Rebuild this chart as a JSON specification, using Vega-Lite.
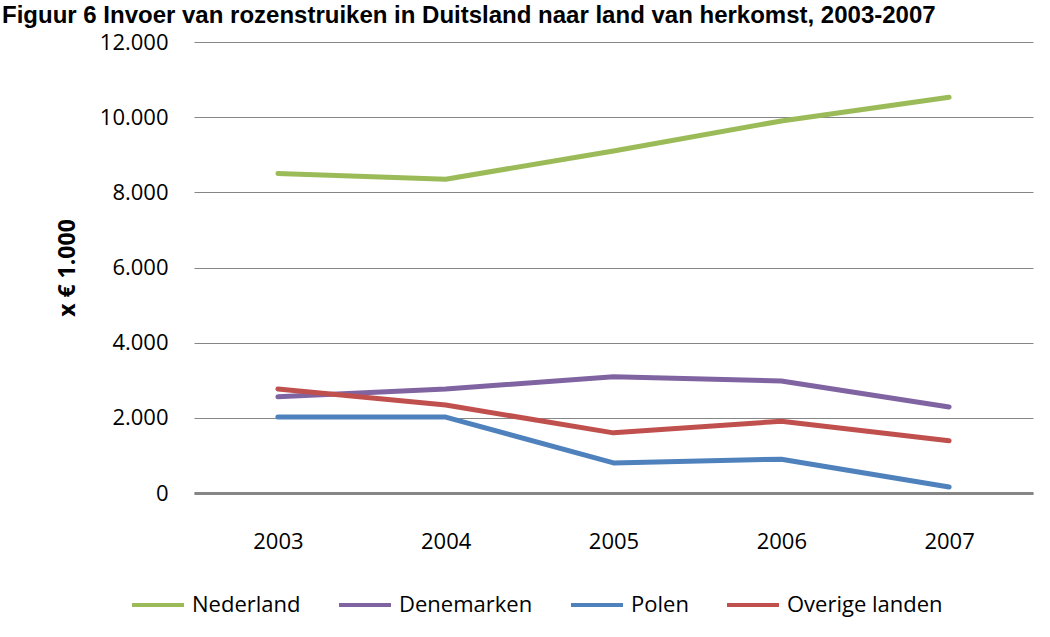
{
  "$schema": "https://vega.github.io/schema/vega-lite/v6.json",
  "width": 839,
  "height": 451,
  "autosize": "none",
  "padding": {"left": 194, "top": 42, "right": 17, "bottom": 144},
  "background": "white",
  "title": {
    "text": "Figuur 6 Invoer van rozenstruiken in Duitsland naar land van herkomst, 2003-2007",
    "anchor": "start",
    "frame": "group",
    "font": "Liberation Sans",
    "fontWeight": "bold",
    "fontSize": 24,
    "color": "black",
    "baseline": "alphabetic",
    "offset": 0,
    "dx": -192,
    "dy": 16
  },
  "config": {
    "view": {"stroke": null},
    "font": "Open Sans"
  },
  "data": {
    "values": [
      {"jaar": "2003", "land": "Nederland", "waarde": 8500},
      {"jaar": "2004", "land": "Nederland", "waarde": 8350},
      {"jaar": "2005", "land": "Nederland", "waarde": 9100},
      {"jaar": "2006", "land": "Nederland", "waarde": 9900},
      {"jaar": "2007", "land": "Nederland", "waarde": 10530},
      {"jaar": "2003", "land": "Denemarken", "waarde": 2560},
      {"jaar": "2004", "land": "Denemarken", "waarde": 2770},
      {"jaar": "2005", "land": "Denemarken", "waarde": 3090},
      {"jaar": "2006", "land": "Denemarken", "waarde": 2980},
      {"jaar": "2007", "land": "Denemarken", "waarde": 2290},
      {"jaar": "2003", "land": "Polen", "waarde": 2020},
      {"jaar": "2004", "land": "Polen", "waarde": 2020},
      {"jaar": "2005", "land": "Polen", "waarde": 800},
      {"jaar": "2006", "land": "Polen", "waarde": 900},
      {"jaar": "2007", "land": "Polen", "waarde": 160},
      {"jaar": "2003", "land": "Overige landen", "waarde": 2770},
      {"jaar": "2004", "land": "Overige landen", "waarde": 2340},
      {"jaar": "2005", "land": "Overige landen", "waarde": 1600},
      {"jaar": "2006", "land": "Overige landen", "waarde": 1910},
      {"jaar": "2007", "land": "Overige landen", "waarde": 1390}
    ]
  },
  "mark": {"type": "line", "strokeWidth": 5, "strokeCap": "round", "strokeJoin": "round"},
  "encoding": {
    "x": {
      "field": "jaar",
      "type": "ordinal",
      "scale": {"type": "point", "padding": 0.5},
      "axis": {
        "title": null,
        "labelAngle": 0,
        "labelFont": "Open Sans",
        "labelFontSize": 22,
        "labelColor": "black",
        "labelPadding": 48,
        "labelBaseline": "middle",
        "ticks": false,
        "domainColor": "#868686",
        "domainWidth": 3,
        "grid": false
      }
    },
    "y": {
      "field": "waarde",
      "type": "quantitative",
      "scale": {"domain": [0, 12000], "nice": false},
      "axis": {
        "title": "x € 1.000",
        "titleFont": "Open Sans",
        "titleFontSize": 23,
        "titleFontWeight": "bold",
        "titleColor": "black",
        "titlePadding": 20,
        "values": [0, 2000, 4000, 6000, 8000, 10000, 12000],
        "labelExpr": "replace(format(datum.value, ','), ',', '.')",
        "labelFont": "Open Sans",
        "labelFontSize": 22,
        "labelColor": "black",
        "labelPadding": 26,
        "ticks": false,
        "domain": false,
        "grid": true,
        "gridColor": "#868686",
        "gridWidth": 1.2
      }
    },
    "color": {
      "field": "land",
      "type": "nominal",
      "sort": ["Nederland", "Denemarken", "Polen", "Overige landen"],
      "scale": {
        "domain": ["Nederland", "Denemarken", "Polen", "Overige landen"],
        "range": ["#9BBB59", "#8064A2", "#4F81BD", "#C0504D"]
      },
      "legend": {
        "title": null,
        "orient": "none",
        "direction": "horizontal",
        "legendX": -64,
        "legendY": 535,
        "symbolType": "stroke",
        "symbolSize": 2700,
        "symbolStrokeWidth": 4,
        "labelFont": "Open Sans",
        "labelFontSize": 22,
        "labelColor": "black",
        "labelOffset": 6,
        "columnPadding": 30
      }
    }
  }
}
